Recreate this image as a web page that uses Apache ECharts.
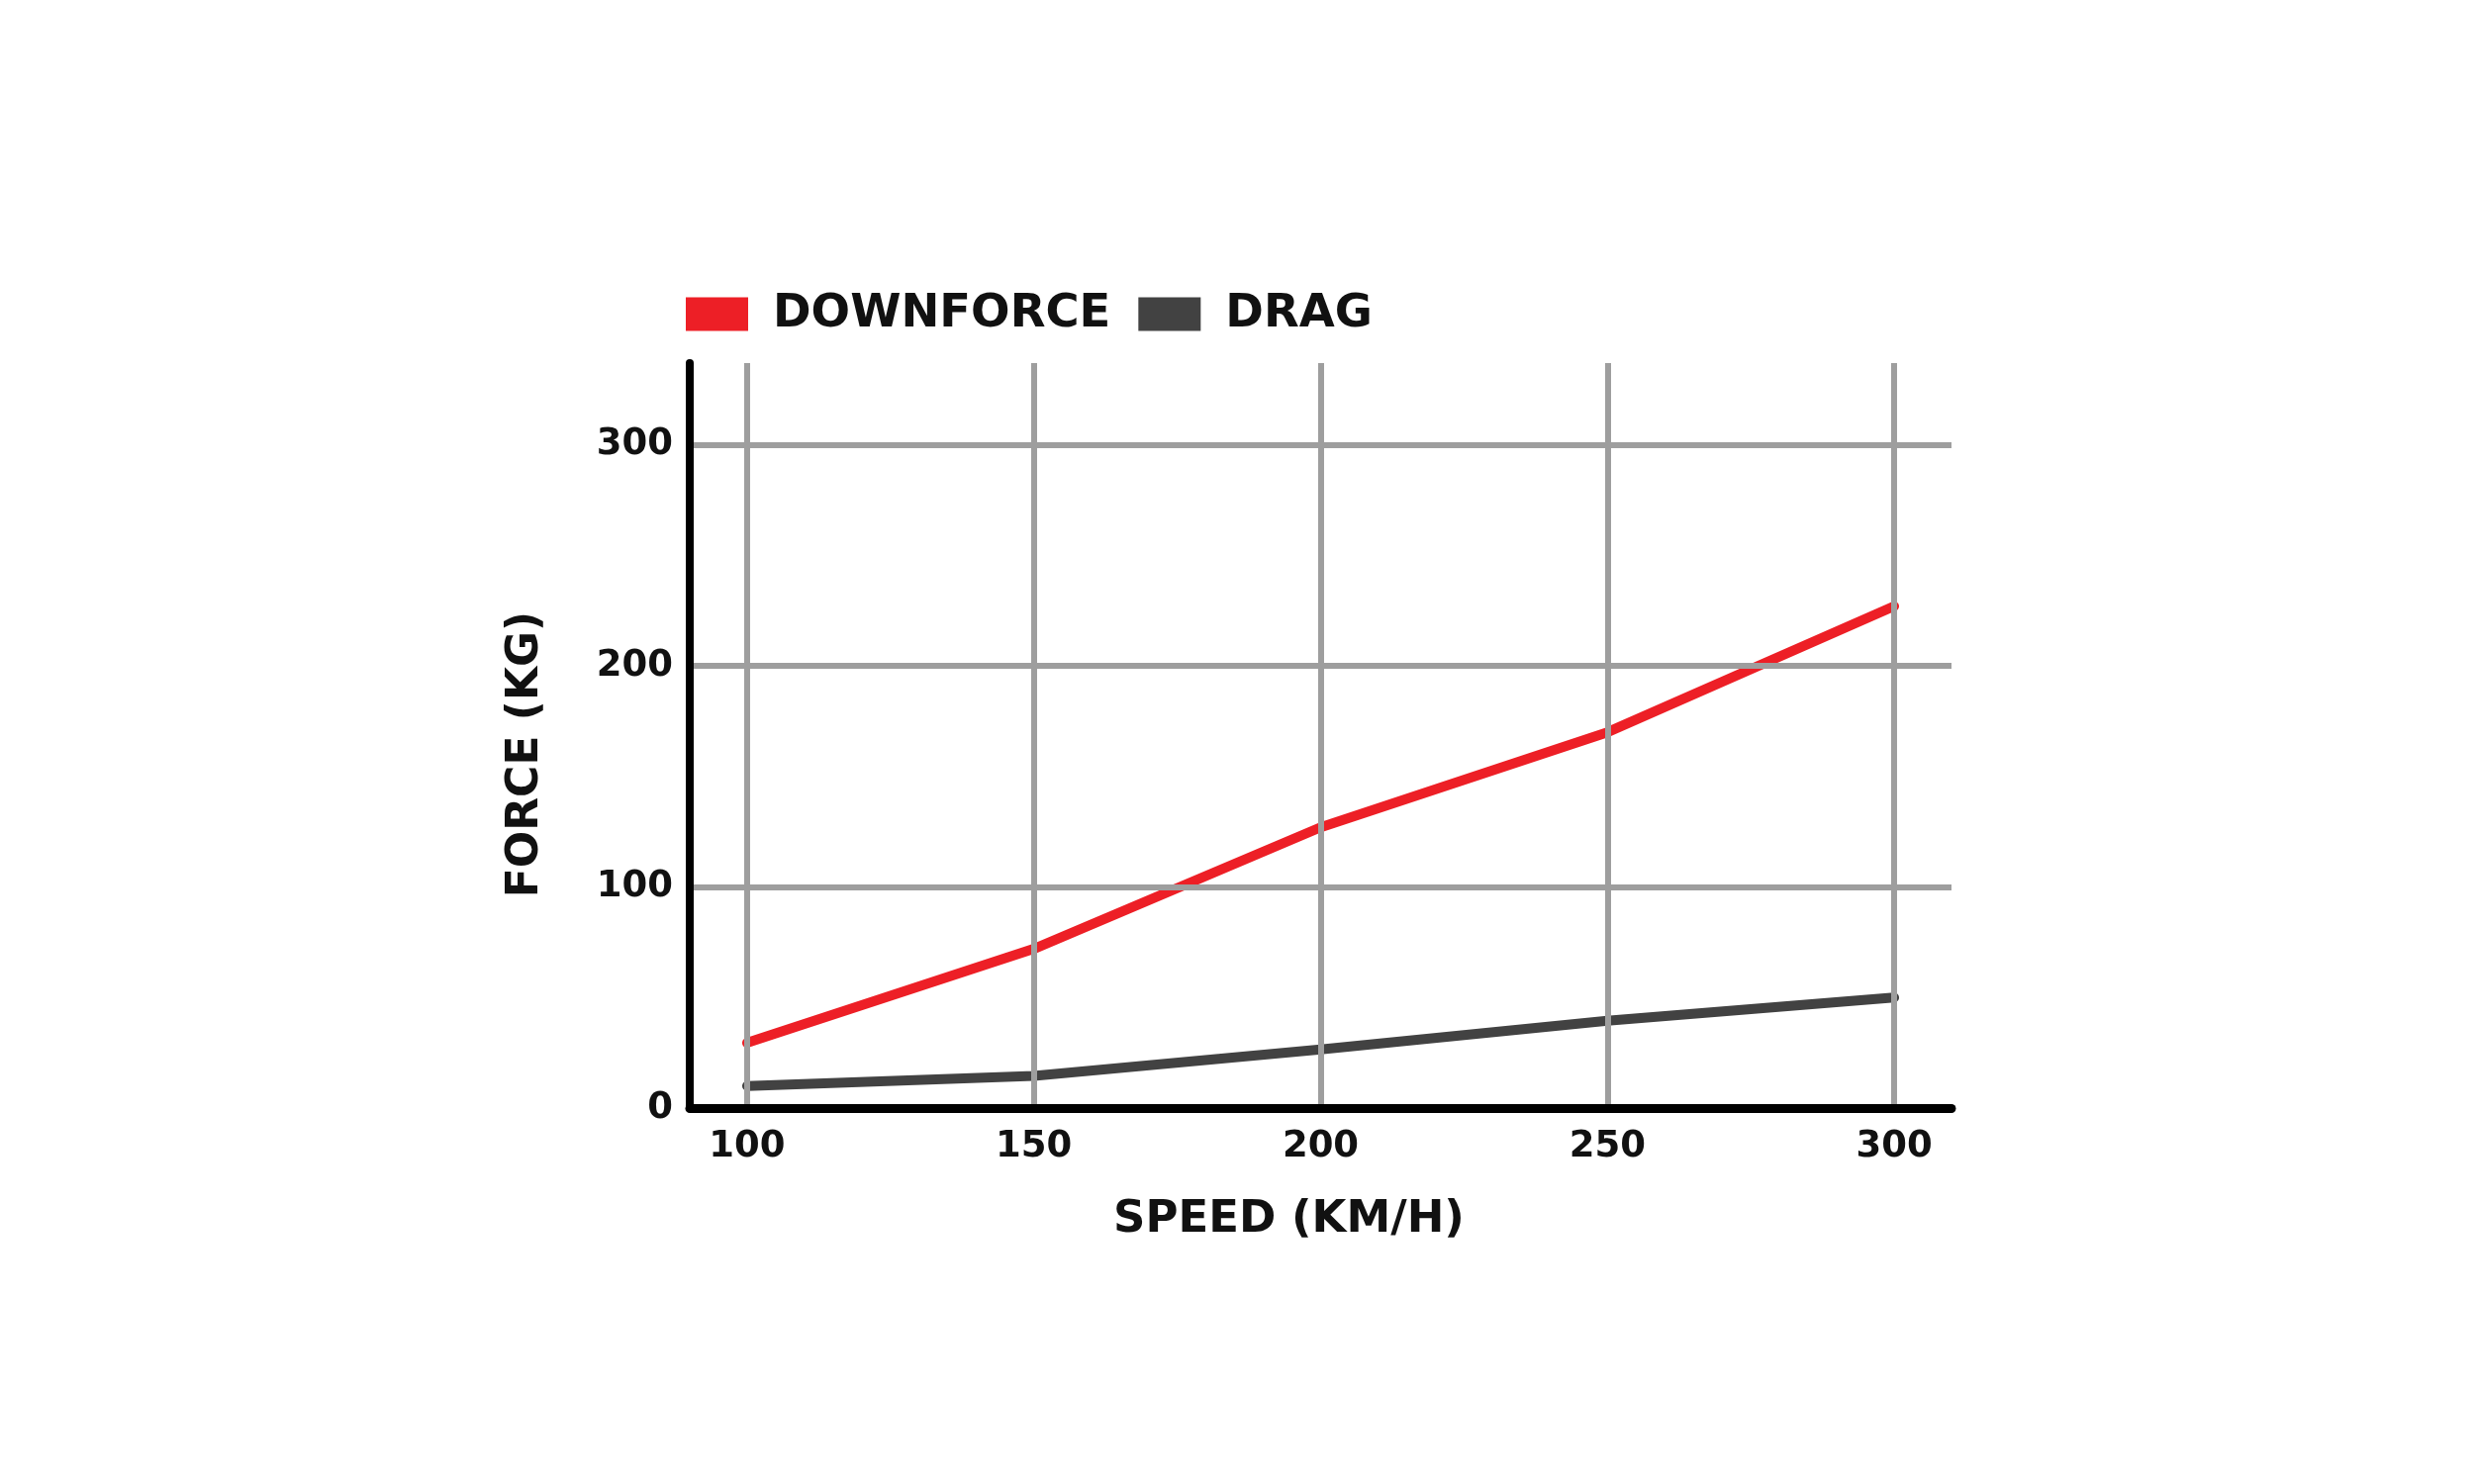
<!DOCTYPE html>
<html>
<head>
<meta charset="utf-8">
<script src="https://cdn.jsdelivr.net/npm/echarts@6/dist/echarts.min.js"></script>
<style>
html,body{margin:0;padding:0;background:#fff;}
#chart{width:2500px;height:1500px;}
</style>
</head>
<body>
<div id="chart"></div>
<script>
const speeds = [100, 150, 200, 250, 300];
const downforce = [29.5, 72, 127, 170, 227];
const drag = [10, 14.5, 26.5, 39.5, 50];
const xTicks = [100, 150, 200, 250, 300];
const yTicks = [0, 100, 200, 300];
const seriesNames = ['DOWNFORCE', 'DRAG'];

const FONT = 'DejaVu Sans';
const RED = '#ED1F26';
const GREY = '#424242';
const GRID = '#9e9e9e';

const chart = echarts.init(document.getElementById('chart'), null, {renderer: 'canvas'});

const gridMarks = xTicks.map(v => ({xAxis: v})).concat(yTicks.filter(v => v > 0).map(v => ({yAxis: v})));

chart.setOption({
  animation: false,
  backgroundColor: '#ffffff',
  grid: {left: 697, right: 528, top: 367, bottom: 380, containLabel: false},
  legend: {
    left: 688, top: 289,
    icon: 'rect',
    itemWidth: 63, itemHeight: 34, itemGap: 28,
    data: seriesNames,
    textStyle: {fontFamily: FONT, fontWeight: 'bold', fontSize: 46.5, color: '#111', padding: [0, 0, 0, 20]}
  },
  xAxis: {
    type: 'value', min: 90, max: 310, interval: 10, z: 10, offset: 4,
    name: 'SPEED (KM/H)', nameLocation: 'middle', nameGap: 87,
    nameTextStyle: {fontFamily: FONT, fontWeight: 'bold', fontSize: 45, color: '#111', padding: [0, 64, 0, 0]},
    axisLine: {show: true, lineStyle: {color: '#000', width: 9, cap: 'round'}},
    axisTick: {show: false},
    splitLine: {show: false},
    axisLabel: {
      margin: 17, fontFamily: FONT, fontWeight: 'bold', fontSize: 37, color: '#111',
      formatter: v => (xTicks.indexOf(v) >= 0 ? String(v) : '')
    }
  },
  yAxis: {
    type: 'value', min: 0, max: 337, interval: 100, z: 10,
    name: 'FORCE (KG)', nameLocation: 'middle', nameGap: 143,
    nameTextStyle: {fontFamily: FONT, fontWeight: 'bold', fontSize: 44, color: '#111', padding: [0, 38, 0, 0]},
    axisLine: {show: true, lineStyle: {color: '#000', width: 8, cap: 'round'}},
    axisTick: {show: false},
    splitLine: {show: false},
    axisLabel: {
      margin: 17, fontFamily: FONT, fontWeight: 'bold', fontSize: 37, color: '#111',
      formatter: v => (yTicks.indexOf(v) >= 0 ? String(v) : '')
    }
  },
  series: [
    {
      name: 'gridlines', type: 'line', data: [], z: 1, silent: true,
      markLine: {
        silent: true, symbol: ['none', 'none'], animation: false,
        label: {show: false},
        lineStyle: {type: 'solid', color: GRID, width: 6},
        emphasis: {disabled: true},
        data: gridMarks
      }
    },
    {
      name: seriesNames[0], type: 'line', z: 3, showSymbol: false,
      data: speeds.map((s, i) => [s, downforce[i]]),
      itemStyle: {color: RED},
      lineStyle: {color: RED, width: 10, cap: 'round', join: 'round'}
    },
    {
      name: seriesNames[1], type: 'line', z: 3, showSymbol: false,
      data: speeds.map((s, i) => [s, drag[i]]),
      itemStyle: {color: GREY},
      lineStyle: {color: GREY, width: 10, cap: 'round', join: 'round'}
    }
  ]
});
</script>
</body>
</html>
